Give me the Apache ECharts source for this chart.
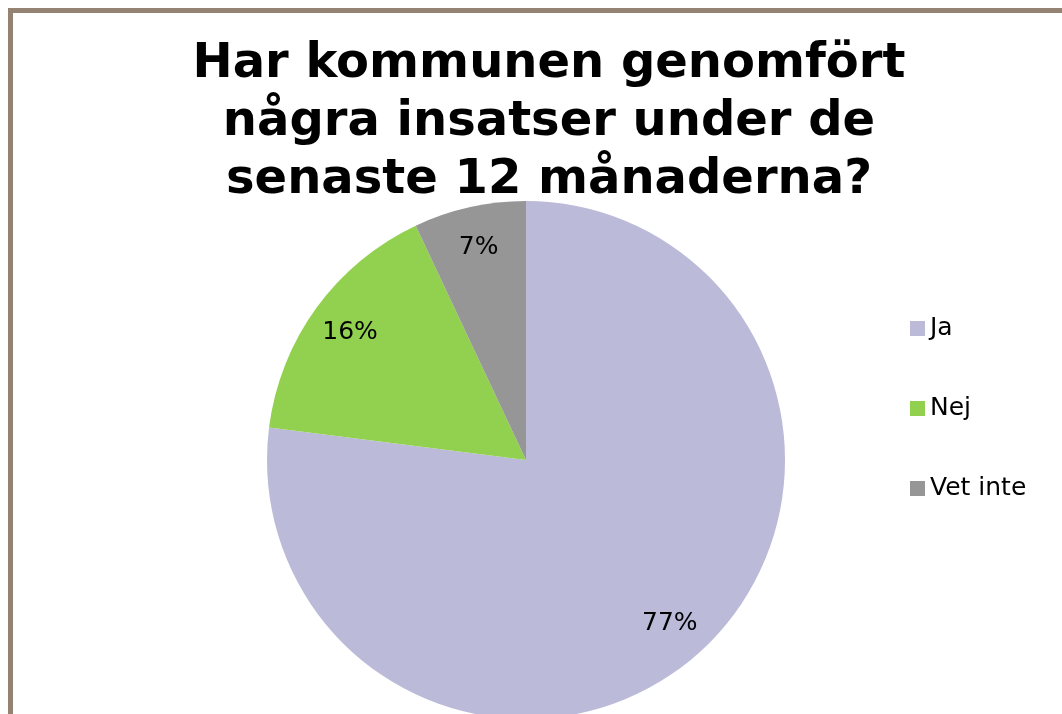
<!DOCTYPE html>
<html>
<head>
<meta charset="utf-8">
<script src="https://cdn.jsdelivr.net/npm/echarts@6/dist/echarts.min.js"></script>
<style>
  html, body { margin: 0; padding: 0; background: #fff; }
  #chart { width: 1062px; height: 714px; }
</style>
</head>
<body>
<div id="chart"></div>
<script>
var titleText = 'Har kommunen genomfört\nnågra insatser under de\nsenaste 12 månaderna?';
var categories = ['Ja', 'Nej', 'Vet inte'];
var percentValues = [77, 16, 7];
var sliceColors = ['#BBBAD8', '#92D050', '#969696'];

var myChart = echarts.init(document.getElementById('chart'));

var pieData = categories.map(function (name, i) {
  return { name: name, value: percentValues[i], itemStyle: { color: sliceColors[i] } };
});

// same values again, only used to place the labels further out
var labelData = categories.map(function (name, i) {
  return { name: name, value: percentValues[i] };
});

var option = {
  backgroundColor: '#ffffff',
  animation: false,
  title: {
    text: titleText,
    left: 544,
    top: 31,
    textAlign: 'center',
    textStyle: {
      fontFamily: 'DejaVu Sans',
      fontWeight: 'bold',
      fontSize: 48,
      lineHeight: 58,
      color: '#000'
    }
  },
  legend: {
    orient: 'vertical',
    left: 905,
    top: 311,
    itemWidth: 15,
    itemHeight: 15,
    itemGap: 55,
    icon: 'rect',
    data: categories,
    textStyle: {
      fontFamily: 'DejaVu Sans',
      fontSize: 25,
      color: '#000'
    }
  },
  graphic: [{
    type: 'rect',
    shape: { x: 10.5, y: 10.5, width: 1100, height: 800 },
    style: { fill: 'none', stroke: '#948272', lineWidth: 5 },
    silent: true,
    z: 100
  }],
  series: [
    {
      type: 'pie',
      center: [526, 460],
      radius: 259,
      startAngle: 90,
      clockwise: true,
      label: { show: false },
      labelLine: { show: false },
      itemStyle: { borderWidth: 0 },
      emphasis: { disabled: true },
      data: pieData
    },
    {
      type: 'pie',
      center: [526, 460],
      radius: [170, 259],
      startAngle: 90,
      clockwise: true,
      silent: true,
      itemStyle: { color: 'transparent' },
      label: {
        show: true,
        position: 'inside',
        formatter: '{c}%',
        fontFamily: 'DejaVu Sans',
        fontSize: 25,
        color: '#000'
      },
      labelLine: { show: false },
      emphasis: { disabled: true },
      data: labelData
    }
  ]
};

myChart.setOption(option);
</script>
</body>
</html>
